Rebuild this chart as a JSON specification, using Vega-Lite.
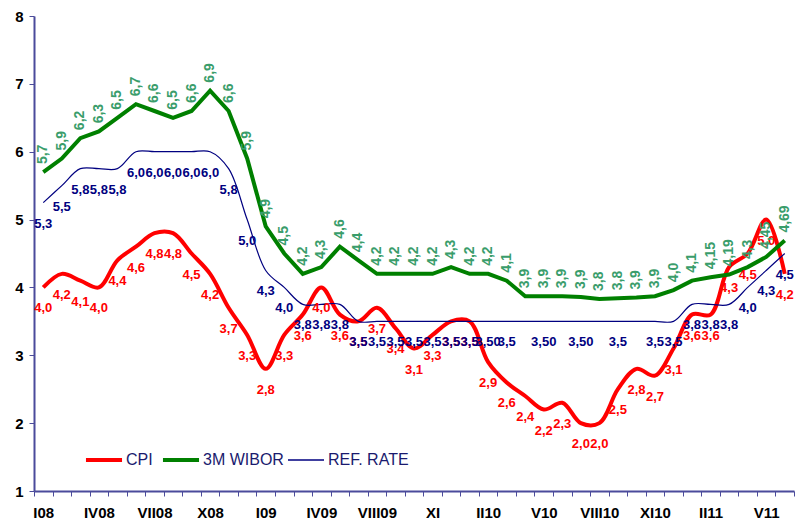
{
  "$schema": "https://vega.github.io/schema/vega-lite/v6.json",
  "width": 760,
  "height": 475,
  "autosize": {"type": "none"},
  "padding": {"left": 34, "top": 16, "right": 13, "bottom": 32},
  "background": "white",
  "config": {"view": {"stroke": null}, "font": "Liberation Sans"},
  "datasets": {
    "cpi": [
      {"i":0,"v":4.0,"l":"4,0"},{"i":1,"v":4.2,"l":"4,2"},{"i":2,"v":4.1,"l":"4,1"},{"i":3,"v":4.0,"l":"4,0"},
      {"i":4,"v":4.4,"l":"4,4"},{"i":5,"v":4.6,"l":"4,6"},{"i":6,"v":4.8,"l":"4,8"},{"i":7,"v":4.8,"l":"4,8"},
      {"i":8,"v":4.5,"l":"4,5"},{"i":9,"v":4.2,"l":"4,2"},{"i":10,"v":3.7,"l":"3,7"},{"i":11,"v":3.3,"l":"3,3"},
      {"i":12,"v":2.8,"l":"2,8"},{"i":13,"v":3.3,"l":"3,3"},{"i":14,"v":3.6,"l":"3,6"},{"i":15,"v":4.0,"l":"4,0"},
      {"i":16,"v":3.6,"l":"3,6"},{"i":17,"v":3.5,"l":"3,5"},{"i":18,"v":3.7,"l":"3,7"},{"i":19,"v":3.4,"l":"3,4"},
      {"i":20,"v":3.1,"l":"3,1"},{"i":21,"v":3.3,"l":"3,3"},{"i":22,"v":3.5,"l":"3,5"},{"i":23,"v":3.5,"l":"3,5"},
      {"i":24,"v":2.9,"l":"2,9"},{"i":25,"v":2.6,"l":"2,6"},{"i":26,"v":2.4,"l":"2,4"},{"i":27,"v":2.2,"l":"2,2"},
      {"i":28,"v":2.3,"l":"2,3"},{"i":29,"v":2.0,"l":"2,0"},{"i":30,"v":2.0,"l":"2,0"},{"i":31,"v":2.5,"l":"2,5"},
      {"i":32,"v":2.8,"l":"2,8"},{"i":33,"v":2.7,"l":"2,7"},{"i":34,"v":3.1,"l":"3,1"},{"i":35,"v":3.6,"l":"3,6"},
      {"i":36,"v":3.6,"l":"3,6"},{"i":37,"v":4.3,"l":"4,3"},{"i":38,"v":4.5,"l":"4,5"},{"i":39,"v":5.0,"l":"5,0"},
      {"i":40,"v":4.2,"l":"4,2"}
    ],
    "wibor": [
      {"i":0,"v":5.7,"l":"5,7"},{"i":1,"v":5.9,"l":"5,9"},{"i":2,"v":6.2,"l":"6,2"},{"i":3,"v":6.3,"l":"6,3"},
      {"i":4,"v":6.5,"l":"6,5"},{"i":5,"v":6.7,"l":"6,7"},{"i":6,"v":6.6,"l":"6,6"},{"i":7,"v":6.5,"l":"6,5"},
      {"i":8,"v":6.6,"l":"6,6"},{"i":9,"v":6.9,"l":"6,9"},{"i":10,"v":6.6,"l":"6,6"},{"i":11,"v":5.9,"l":"5,9"},
      {"i":12,"v":4.9,"l":"4,9"},{"i":13,"v":4.5,"l":"4,5"},{"i":14,"v":4.2,"l":"4,2"},{"i":15,"v":4.3,"l":"4,3"},
      {"i":16,"v":4.6,"l":"4,6"},{"i":17,"v":4.4,"l":"4,4"},{"i":18,"v":4.2,"l":"4,2"},{"i":19,"v":4.2,"l":"4,2"},
      {"i":20,"v":4.2,"l":"4,2"},{"i":21,"v":4.2,"l":"4,2"},{"i":22,"v":4.3,"l":"4,3"},{"i":23,"v":4.2,"l":"4,2"},
      {"i":24,"v":4.2,"l":"4,2"},{"i":25,"v":4.1,"l":"4,1"},{"i":26,"v":3.87,"l":"3,9"},{"i":27,"v":3.87,"l":"3,9"},
      {"i":28,"v":3.87,"l":"3,9"},{"i":29,"v":3.86,"l":"3,9"},{"i":30,"v":3.83,"l":"3,8"},{"i":31,"v":3.84,"l":"3,8"},
      {"i":32,"v":3.85,"l":"3,9"},{"i":33,"v":3.87,"l":"3,9"},{"i":34,"v":3.96,"l":"4,0"},{"i":35,"v":4.1,"l":"4,1"},
      {"i":36,"v":4.15,"l":"4,15"},{"i":37,"v":4.19,"l":"4,19"},{"i":38,"v":4.3,"l":"4,3"},{"i":39,"v":4.45,"l":"4,45"},
      {"i":40,"v":4.69,"l":"4,69"}
    ],
    "ref": [
      {"i":0,"v":5.25,"l":"5,3"},{"i":1,"v":5.5,"l":"5,5"},{"i":2,"v":5.75,"l":"5,8"},{"i":3,"v":5.75,"l":"5,8"},
      {"i":4,"v":5.75,"l":"5,8"},{"i":5,"v":6.0,"l":"6,0"},{"i":6,"v":6.0,"l":"6,0"},{"i":7,"v":6.0,"l":"6,0"},
      {"i":8,"v":6.0,"l":"6,0"},{"i":9,"v":6.0,"l":"6,0"},{"i":10,"v":5.75,"l":"5,8"},{"i":11,"v":5.0,"l":"5,0"},
      {"i":12,"v":4.25,"l":"4,3"},{"i":13,"v":4.0,"l":"4,0"},{"i":14,"v":3.75,"l":"3,8"},{"i":15,"v":3.75,"l":"3,8"},
      {"i":16,"v":3.75,"l":"3,8"},{"i":17,"v":3.5,"l":"3,5"},{"i":18,"v":3.5,"l":"3,5"},{"i":19,"v":3.5,"l":"3,5"},
      {"i":20,"v":3.5,"l":"3,5"},{"i":21,"v":3.5,"l":"3,5"},{"i":22,"v":3.5,"l":"3,5"},{"i":23,"v":3.5,"l":"3,5"},
      {"i":24,"v":3.5,"l":"3,50"},{"i":25,"v":3.5,"l":"3,5"},{"i":26,"v":3.5,"l":""},{"i":27,"v":3.5,"l":"3,50"},
      {"i":28,"v":3.5,"l":""},{"i":29,"v":3.5,"l":"3,50"},{"i":30,"v":3.5,"l":""},{"i":31,"v":3.5,"l":"3,5"},
      {"i":32,"v":3.5,"l":""},{"i":33,"v":3.5,"l":"3,5"},{"i":34,"v":3.5,"l":"3,5"},{"i":35,"v":3.75,"l":"3,8"},
      {"i":36,"v":3.75,"l":"3,8"},{"i":37,"v":3.75,"l":"3,8"},{"i":38,"v":4.0,"l":"4,0"},{"i":39,"v":4.25,"l":"4,3"},
      {"i":40,"v":4.5,"l":"4,5"}
    ]
  },
  "encoding": {
    "x": {
      "field": "i", "type": "ordinal", "bandPosition": 0.5,
      "scale": {"type": "band", "paddingInner": 0, "paddingOuter": 0},
      "axis": {
        "title": null, "labelAngle": 0, "tickBand": "extent", "grid": false,
        "labelExpr": "datum.value % 3 == 0 ? ['I08','IV08','VII08','X08','I09','IV09','VIII09','XI','II10','V10','VIII10','XI10','II11','V11'][datum.value / 3] : ''",
        "labelFont": "Liberation Sans", "labelFontWeight": "bold", "labelFontSize": 15, "labelColor": "black",
        "labelPadding": 9, "tickSize": 5, "tickColor": "#4b4b9b", "domainColor": "#4b4b9b", "domainWidth": 2,
        "labelOverlap": false
      }
    },
    "y": {
      "field": "v", "type": "quantitative",
      "scale": {"domain": [1, 8], "nice": false, "zero": false},
      "axis": {
        "title": null, "values": [1,2,3,4,5,6,7,8], "grid": false,
        "labelFont": "Liberation Sans", "labelFontWeight": "bold", "labelFontSize": 15, "labelColor": "black",
        "labelPadding": 6, "tickSize": 5, "tickColor": "#4b4b9b", "domainColor": "#4b4b9b", "domainWidth": 2
      }
    }
  },
  "layer": [
    {
      "data": {"name": "cpi"},
      "transform": [{"calculate": "'CPI'", "as": "s"}],
      "mark": {"type": "line", "interpolate": "catmull-rom", "strokeWidth": 4},
      "encoding": {
        "color": {"field": "s", "type": "nominal", "scale": {"domain": ["CPI", "3M WIBOR", "REF. RATE"], "range": ["#ff0000", "#008000", "#000080"]},
          "legend": {"orient": "none", "legendX": 62, "legendY": 436, "direction": "horizontal", "title": null, "symbolType": "stroke", "symbolSize": 1300, "labelFontSize": 16, "labelColor": "#1a1a6e", "labelFont": "Liberation Sans", "labelOffset": 9, "columnPadding": 1, "padding": 0,
            "encode": {"symbols": {"update": {"strokeWidth": {"signal": "datum.value === 'REF. RATE' ? 1.3 : 4"}}}, "labels": {"update": {"dx": {"value": 5}}}}}}
      }
    },
    {
      "data": {"name": "wibor"},
      "transform": [{"calculate": "'3M WIBOR'", "as": "s"}],
      "mark": {"type": "line", "strokeWidth": 4},
      "encoding": {
        "color": {"field": "s", "type": "nominal"}
      }
    },
    {
      "data": {"name": "ref"},
      "transform": [{"calculate": "'REF. RATE'", "as": "s"}],
      "mark": {"type": "line", "interpolate": "catmull-rom", "strokeWidth": 1.2},
      "encoding": {
        "color": {"field": "s", "type": "nominal"}
      }
    },
    {
      "data": {"name": "cpi"},
      "mark": {"type": "text", "color": "#ff0000", "fontWeight": "bold", "fontSize": 13, "dy": 21, "font": "Liberation Sans"},
      "encoding": {"text": {"field": "l"}}
    },
    {
      "data": {"name": "wibor"},
      "mark": {"type": "text", "color": "#3a9d6b", "fontWeight": "bold", "fontSize": 14, "angle": 270, "align": "left", "baseline": "middle", "dx": 8, "font": "Liberation Sans"},
      "encoding": {"text": {"field": "l"}}
    },
    {
      "data": {"name": "ref"},
      "mark": {"type": "text", "color": "#000080", "fontWeight": "bold", "fontSize": 13, "dy": 21, "font": "Liberation Sans"},
      "encoding": {"text": {"field": "l"}}
    }
  ]
}
